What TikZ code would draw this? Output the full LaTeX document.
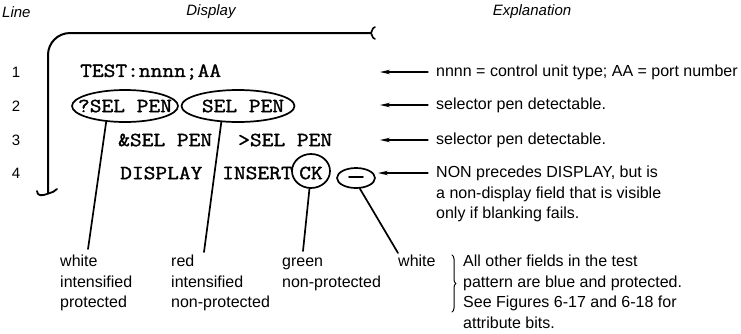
\documentclass[tikz,border=0pt]{standalone}
\usepackage{fontspec}
\setmainfont{Liberation Sans}
\newfontfamily\dispfont{Latin Modern Mono}[FakeStretch=1.14,FakeBold=1.5]
\usetikzlibrary{shapes.geometric,decorations.pathreplacing,arrows.meta}

\begin{document}
\begin{tikzpicture}[x=1pt, y=-1pt, line join=round, line cap=round,
    >={Stealth[length=10pt,width=4.5pt]},
    font=\fontsize{16}{20.5}\selectfont,
    head/.style={inner sep=0pt, font=\fontsize{15}{18}\selectfont\itshape},
    mono/.style={font=\fontsize{20}{24}\selectfont\dispfont, inner sep=0pt},
    row/.style={mono, anchor=west},
    ring/.style={draw, ellipse, line width=1.7pt, inner sep=0pt},
    expl/.style={anchor=west, inner sep=0pt, align=left},
    block/.style={expl, anchor=north west},
    lead/.style={line width=1.7pt},
    pointer/.style={->, line width=1.3pt, shorten <=8pt}]
\useasboundingbox (0,0) rectangle (741,333);

% headings
\node[head, anchor=west] (hline) at (2,12) {Line};
\node[head] (hdisp) at (211,12) {Display};
\node[head] (hexpl) at (532,12) {Explanation};

% screen frame
\draw[line width=2pt, rounded corners=22] (370,33) -- (48,33) -- (48,193);
\draw[line width=1.6pt] (375,27) .. controls (371,28) and (373,33) .. (370,33)
  .. controls (373,33) and (371,38) .. (375,39);
\draw[line width=1.8pt] (37,191) .. controls (37,196) and (42,196) .. (47,194)
  .. controls (52,192) and (55,192) .. (57,189);

% line numbers
\foreach \n/\y in {1/72, 2/106, 3/140, 4/173}
  \node[inner sep=0pt, font=\fontsize{15}{18}\selectfont] (num\n) at (16,\y) {\n};

% display rows
\node[row] (test) at (80,72) {TEST:nnnn;AA};
\node[ring, minimum width=106, minimum height=32] (selq) at (125,106) {};
\node[mono] (selqtext) at (selq) {?SEL PEN};
\node[ring, minimum width=113, minimum height=32] (selp) at (238,106) {};
\node[mono] (selptext) at (243,106) {SEL PEN};
\node[row] (ampsel) at (118,140) {\&SEL PEN};
\node[row] (gtsel) at (238,140) {>SEL PEN};
\node[row] (dspl) at (120,173) {DISPLAY};
\node[row] (insert) at (222,173) {INSERT};
\node[ring, minimum width=38, minimum height=34] (ck) at (311,171) {};
\node[mono] (cktext) at (311,173) {CK};
\node[ring, minimum width=38, minimum height=20] (blank) at (356,178) {};
\draw[line width=1.7pt] (349,177) -- (363,177);

% explanations
\node[expl] (ex1) at (436,72) {nnnn = control unit type; AA = port number};
\node[expl] (ex2) at (436,105) {selector pen detectable.};
\node[expl] (ex3) at (436,140) {selector pen detectable.};
\node[block] (ex4) at (436,166)
  {NON precedes DISPLAY, but is\\a non-display field that is visible\\only if blanking fails.};
\coordinate (t1) at (380,72);
\coordinate (t2) at (380,105);
\coordinate (t3) at (380,140);
\coordinate (t4) at (378,173);
\draw[pointer] (ex1.west) -- (t1);
\draw[pointer] (ex2.west) -- (t2);
\draw[pointer] (ex3.west) -- (t3);
\draw[pointer] ([yshift=-7]ex4.north west) -- (t4);

% attribute labels
\node[block] (labA) at (60,255) {white\\intensified\\protected};
\node[block] (labB) at (171,255) {red\\intensified\\non-protected};
\node[block] (labC) at (282,255) {\rule{0pt}{11.5pt}green\\non-protected};
\node[block] (labD) at (398,255) {white};
\coordinate (eA) at (88,249);
\coordinate (eB) at (204,252);
\coordinate (eC) at (303,251);
\coordinate (eD) at (398,253);
\draw[lead] (selq.-140) -- (eA);
\draw[lead] (selp.-136) -- (eB);
\draw[lead] (ck.-95) -- (eC);
\draw[lead] (blank.-70) -- (eD);

\draw[decorate, decoration={brace, amplitude=4pt}, line width=1pt] (452,255) -- (452,312);
\node[block] (other) at (463,255)
  {All other fields in the test\\pattern are blue and protected.\\See Figures 6-17 and 6-18 for\\attribute bits.};
\end{tikzpicture}
\end{document}
